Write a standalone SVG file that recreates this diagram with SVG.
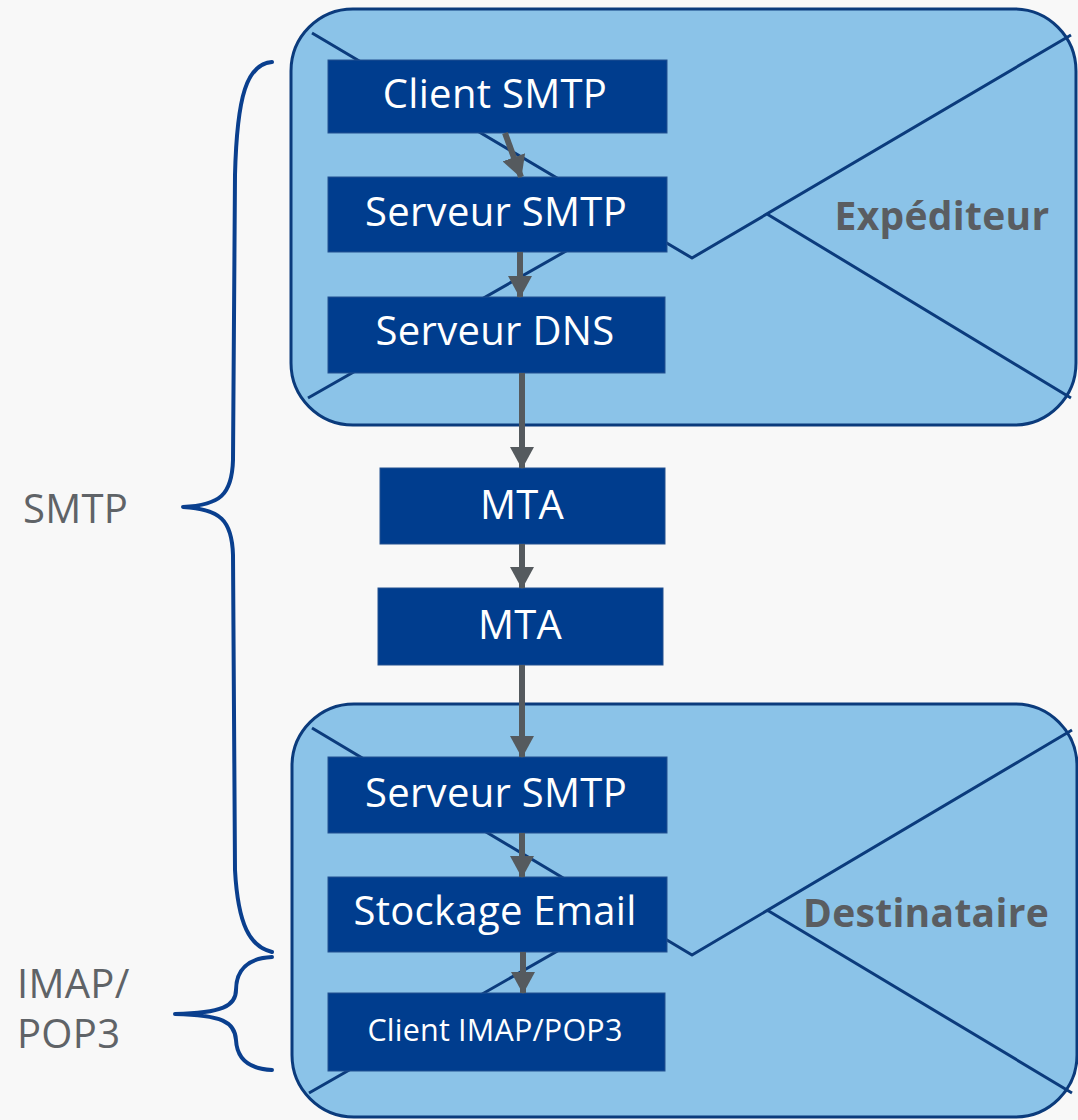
<svg xmlns="http://www.w3.org/2000/svg" width="1078" height="1120" viewBox="0 0 1078 1120">
<style>
.env{fill:#8bc3e8;stroke:#0b3b7c;stroke-width:3}
.flap{fill:none;stroke:#0b3b7c;stroke-width:3;stroke-linejoin:round}
.box{fill:#003d8e;stroke:#23508f;stroke-width:1}
.t{font-family:"Open Sans","Noto Sans",sans-serif;fill:#ffffff;font-size:40px;text-anchor:middle;letter-spacing:0.3px}
.ts{font-size:30.5px;letter-spacing:0.2px}
.big{font-family:"Open Sans","Noto Sans",sans-serif;fill:#5a5d61;font-size:39px;font-weight:bold;text-anchor:middle;letter-spacing:0.3px}
.lab{font-family:"Open Sans","Noto Sans",sans-serif;fill:#5f6367;font-size:40px;letter-spacing:0.3px}
.br{fill:none;stroke:#0a3f8e;stroke-width:4;stroke-linecap:round;stroke-linejoin:round}
.ar{stroke:#555a5e;stroke-width:6;fill:none}
</style>
<defs>
<marker id="ah" markerUnits="userSpaceOnUse" markerWidth="22" markerHeight="24" refX="21" refY="12" orient="auto">
<path d="M0,0 L22,12 L0,24 z" fill="#555a5e"/>
</marker>
</defs>
<rect width="1078" height="1120" fill="#f8f8f8"/>

<g id="expediteur">
<rect class="env" x="291" y="9" width="785" height="416" rx="62"/>
<path class="flap" d="M312,33 L692,258 L1071,35 M308,398 L624,218 M767,214 L1071,398"/>
<text class="big" x="942" y="230">Expéditeur</text>
</g>
<g id="destinataire">
<rect class="env" x="292" y="704" width="785" height="413" rx="62"/>
<path class="flap" d="M312,728 L692,955 L1072,730 M309,1093 L624,913 M767,910 L1072,1093"/>
<text class="big" x="926" y="927">Destinataire</text>
</g>

<g id="brace-smtp"><path class="br" d="M272,62 C247,64 237,95 235,175 L233,460 C232,495 220,505 183,507 C220,509 232,520 233,555 L235,870 C238,925 250,947 272,952"/></g>
<g id="brace-imap"><path class="br" d="M272,957 C248,958 236,970 236,990 C236,1006 222,1013 175,1014 C222,1015 235,1022 236,1040 C237,1060 250,1069 272,1070"/></g>
<g id="label-smtp"><text class="lab" x="23" y="523">SMTP</text></g>
<g id="label-imap"><text class="lab" x="17" y="998">IMAP/</text><text class="lab" x="17" y="1048">POP3</text></g>

<g id="client-smtp"><rect class="box" x="328" y="60" width="339" height="73"/><text class="t" x="495" y="108">Client SMTP</text></g>
<g id="serveur-smtp-1"><rect class="box" x="328" y="177" width="339" height="75"/><text class="t" x="496" y="226">Serveur SMTP</text></g>
<g id="serveur-dns"><rect class="box" x="328" y="297" width="337" height="76"/><text class="t" x="495" y="345">Serveur DNS</text></g>
<g id="mta-1"><rect class="box" x="380" y="468" width="285" height="76"/><text class="t" x="522" y="519">MTA</text></g>
<g id="mta-2"><rect class="box" x="378" y="588" width="285" height="77"/><text class="t" x="520" y="639">MTA</text></g>
<g id="serveur-smtp-2"><rect class="box" x="328" y="757" width="339" height="76"/><text class="t" x="496" y="807">Serveur SMTP</text></g>
<g id="stockage-email"><rect class="box" x="328" y="877" width="339" height="75"/><text class="t" x="495" y="925">Stockage Email</text></g>
<g id="client-imap"><rect class="box" x="328" y="993" width="337" height="78"/><text class="t ts" x="495" y="1041">Client IMAP/POP3</text></g>

<g id="connectors">
<line class="ar" x1="505" y1="133" x2="521" y2="177" marker-end="url(#ah)"/>
<line class="ar" x1="520" y1="252" x2="520" y2="297" marker-end="url(#ah)"/>
<line class="ar" x1="522" y1="373" x2="522" y2="468" marker-end="url(#ah)"/>
<line class="ar" x1="522" y1="544" x2="522" y2="588" marker-end="url(#ah)"/>
<line class="ar" x1="522" y1="665" x2="522" y2="757" marker-end="url(#ah)"/>
<line class="ar" x1="522" y1="833" x2="522" y2="877" marker-end="url(#ah)"/>
<line class="ar" x1="523" y1="952" x2="523" y2="993" marker-end="url(#ah)"/>
</g>
</svg>
